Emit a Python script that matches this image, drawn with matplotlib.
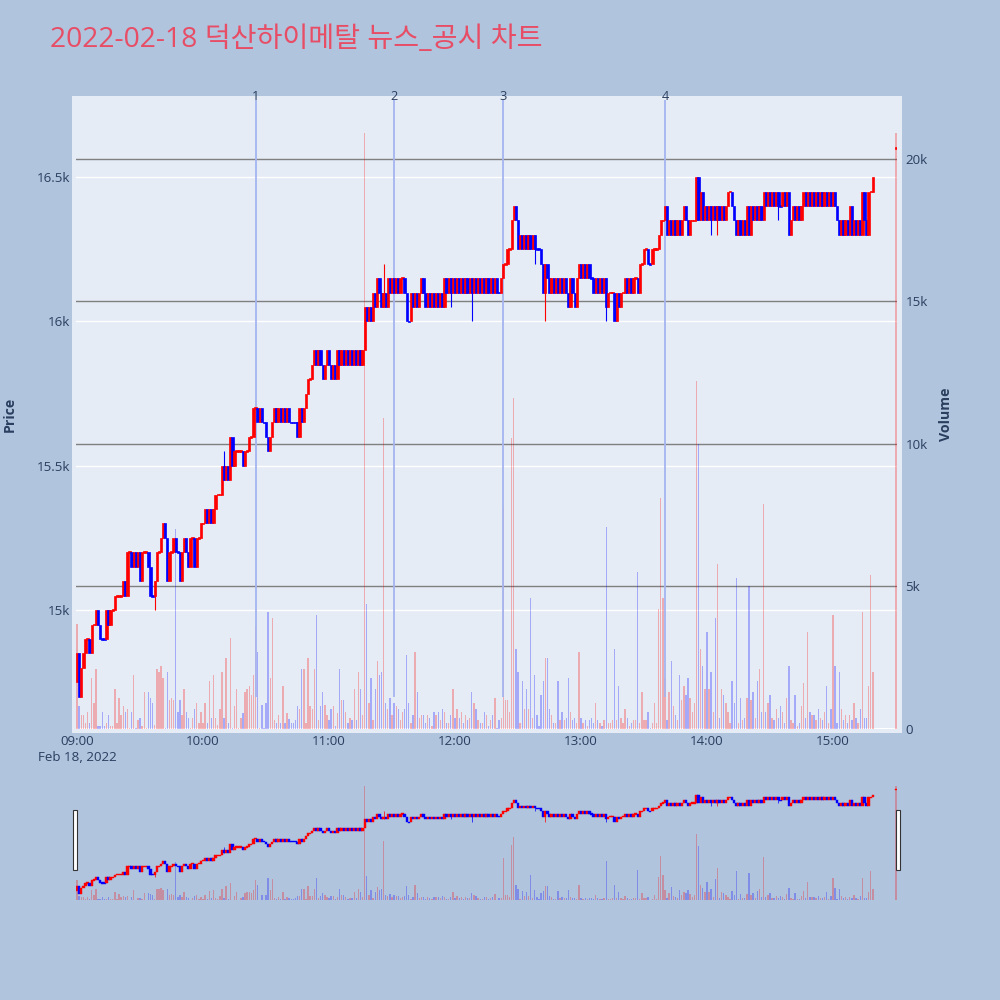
import numpy as np
import matplotlib.pyplot as plt
from matplotlib.patches import Rectangle
from matplotlib.transforms import blended_transform_factory

plt.rcParams['font.family'] = ['Open Sans', 'Noto Sans CJK KR', 'DejaVu Sans']

title = '2022-02-18 덕산하이메탈 뉴스_공시 차트'

# 1분봉 종가 (09:00 ~ 15:19), 시가는 직전 종가
first_open = 14750
close_px = [
    14850, 14700, 14800, 14850, 14900, 14900, 14850, 14950, 14950, 15000,  # 09:00
    14950, 14900, 14900, 14900, 15000, 14950, 15000, 15000, 15050, 15050,
    15050, 15050, 15100, 15050, 15200, 15200, 15150, 15200, 15150, 15200,
    15100, 15200, 15200, 15200, 15150, 15050, 15050, 15100, 15200, 15200,
    15250, 15300, 15250, 15100, 15200, 15200, 15250, 15200, 15200, 15100,
    15200, 15250, 15200, 15150, 15250, 15250, 15150, 15250, 15250, 15300,
    15300, 15350, 15300, 15350, 15300, 15350, 15400, 15400, 15400, 15500,  # 10:00
    15450, 15500, 15450, 15600, 15500, 15550, 15550, 15550, 15550, 15500,
    15550, 15550, 15600, 15600, 15700, 15700, 15650, 15700, 15650, 15650,
    15600, 15550, 15600, 15650, 15700, 15650, 15700, 15650, 15700, 15650,
    15700, 15650, 15650, 15650, 15650, 15600, 15700, 15650, 15700, 15750,
    15800, 15800, 15850, 15900, 15850, 15900, 15850, 15800, 15850, 15900,
    15850, 15800, 15850, 15800, 15900, 15850, 15900, 15850, 15900, 15850,  # 11:00
    15900, 15850, 15900, 15850, 15900, 15850, 15900, 16050, 16000, 16050,
    16000, 16100, 16050, 16150, 16100, 16050, 16100, 16050, 16150, 16100,
    16150, 16100, 16150, 16100, 16150, 16150, 16100, 16000, 16000, 16100,
    16050, 16100, 16050, 16100, 16150, 16100, 16050, 16100, 16050, 16100,
    16050, 16100, 16050, 16100, 16050, 16150, 16100, 16150, 16100, 16150,
    16100, 16150, 16100, 16150, 16100, 16150, 16100, 16150, 16100, 16150,  # 12:00
    16100, 16150, 16100, 16150, 16100, 16150, 16100, 16150, 16100, 16150,
    16100, 16100, 16150, 16200, 16200, 16250, 16250, 16350, 16400, 16350,
    16250, 16300, 16250, 16300, 16250, 16300, 16250, 16300, 16250, 16250,
    16250, 16200, 16100, 16200, 16150, 16100, 16150, 16100, 16150, 16100,
    16150, 16100, 16150, 16100, 16050, 16150, 16100, 16050, 16150, 16200,
    16150, 16200, 16150, 16200, 16150, 16150, 16100, 16150, 16100, 16150,  # 13:00
    16100, 16150, 16050, 16100, 16100, 16100, 16000, 16100, 16050, 16100,
    16100, 16150, 16100, 16150, 16100, 16150, 16150, 16100, 16200, 16200,
    16250, 16250, 16200, 16200, 16250, 16250, 16250, 16300, 16350, 16350,
    16400, 16300, 16350, 16300, 16350, 16300, 16350, 16300, 16350, 16400,
    16350, 16300, 16350, 16350, 16350, 16500, 16350, 16450, 16350, 16400,
    16350, 16400, 16350, 16400, 16350, 16400, 16350, 16400, 16350, 16400,  # 14:00
    16450, 16450, 16400, 16350, 16300, 16350, 16300, 16350, 16300, 16400,
    16300, 16400, 16350, 16400, 16350, 16400, 16350, 16450, 16400, 16450,
    16400, 16450, 16400, 16450, 16400, 16400, 16450, 16400, 16450, 16300,
    16350, 16400, 16350, 16400, 16350, 16400, 16450, 16400, 16450, 16400,
    16450, 16400, 16450, 16400, 16450, 16400, 16450, 16400, 16450, 16400,
    16450, 16400, 16350, 16300, 16350, 16300, 16350, 16300, 16400, 16300,  # 15:00
    16350, 16300, 16350, 16300, 16450, 16350, 16300, 16450, 16450, 16500,
]
hi_wick = {70: 15550, 146: 16200}
lo_wick = {37: 15000, 178: 16050, 188: 16000, 218: 16200, 223: 16000, 234: 16050,
           237: 16050, 252: 16000, 302: 16300, 305: 16300, 334: 16350, 341: 16350}

# 거래량 (천주)
volume_k = [
    3.7, 0.8, 0.5, 0.5, 0.2, 0.6, 0.2, 1.8, 0.9, 2.1,
    0.1, 0.1, 0.6, 0.1, 0.2, 0.5, 0.1, 0.1, 1.4, 0.2,
    1.1, 0.5, 0.8, 0.6, 0.7, 0.05, 0.6, 1.9, 0.05, 0.3,
    0.4, 0.1, 1.3, 0.05, 1.3, 1.1, 0.9, 0.15, 2.1, 2.0,
    2.2, 1.8, 0.05, 2.0, 1.0, 1.1, 1.0, 7.0, 0.6, 1.0,
    0.5, 1.4, 0.6, 0.4, 0.05, 0.4, 0.7, 0.9, 0.2, 0.6,
    0.2, 0.9, 0.2, 1.7, 0.4, 1.9, 0.4, 0.15, 0.7, 2.0,
    0.4, 2.5, 0.2, 3.2, 0.05, 0.8, 1.4, 0.05, 0.4, 0.55,
    1.3, 1.4, 1.5, 1.2, 1.9, 3.6, 2.7, 0.05, 0.85, 0.05,
    0.9, 4.1, 1.8, 3.9, 0.3, 0.2, 0.5, 0.2, 1.5, 0.2,
    0.55, 0.35, 0.2, 0.2, 0.3, 0.8, 0.7, 2.1, 2.1, 0.2,
    2.5, 0.8, 0.7, 2.1, 4.0, 0.3, 0.8, 1.3, 0.85, 0.5,
    0.3, 0.7, 0.8, 0.1, 0.55, 2.1, 1.0, 1.0, 0.6, 0.2,
    0.4, 0.3, 1.4, 0.3, 2.0, 1.4, 0.5, 20.9, 4.4, 0.9,
    1.8, 0.3, 1.4, 2.4, 1.9, 2.0, 10.9, 0.9, 0.7, 1.1,
    0.5, 0.9, 0.8, 0.7, 0.3, 0.6, 0.7, 2.6, 0.9, 0.2,
    0.5, 2.7, 1.3, 0.4, 0.5, 0.5, 0.2, 0.5, 0.4, 0.1,
    0.6, 0.5, 0.6, 0.3, 0.7, 0.6, 0.2, 0.2, 0.5, 1.4,
    0.4, 0.7, 0.4, 0.6, 0.2, 0.5, 0.3, 0.4, 1.3, 0.9,
    0.7, 0.3, 0.2, 0.2, 0.6, 0.5, 0.1, 0.3, 0.5, 1.1,
    0.05, 0.3, 0.4, 7.8, 1.0, 1.0, 0.6, 10.2, 11.6, 2.8,
    2.0, 0.2, 1.7, 0.7, 1.4, 0.7, 4.6, 0.4, 1.9, 0.5,
    0.1, 1.2, 1.7, 2.5, 2.5, 0.7, 0.5, 0.2, 0.2, 1.7,
    0.3, 0.6, 0.3, 0.4, 1.8, 0.6, 0.3, 0.4, 0.2, 2.7,
    0.4, 0.2, 0.3, 0.1, 0.3, 0.4, 0.2, 0.9, 0.3, 0.2,
    0.1, 0.3, 7.1, 0.2, 0.2, 0.3, 2.8, 0.3, 1.5, 0.4,
    0.2, 0.7, 0.4, 0.1, 0.2, 0.3, 0.3, 5.5, 0.2, 1.3,
    0.3, 0.3, 0.6, 0.05, 0.2, 0.9, 0.2, 4.2, 8.1, 4.6,
    1.8, 0.3, 1.3, 2.4, 0.8, 0.5, 0.3, 1.9, 1.0, 1.5,
    1.2, 1.8, 1.1, 0.6, 0.9, 12.2, 10.0, 2.8, 2.2, 1.4,
    3.4, 1.4, 2.0, 0.6, 3.9, 5.8, 0.4, 1.4, 1.2, 0.9,
    0.6, 0.2, 1.7, 0.9, 5.3, 0.2, 1.1, 0.3, 0.4, 1.1,
    5.0, 1.0, 1.3, 0.4, 1.7, 2.1, 0.6, 7.9, 0.6, 0.9,
    1.2, 0.4, 0.3, 0.7, 0.4, 0.8, 0.6, 0.2, 1.1, 2.2,
    0.3, 0.2, 1.2, 0.1, 0.2, 0.8, 1.6, 0.4, 3.4, 0.6,
    0.5, 0.5, 0.3, 0.7, 0.4, 0.3, 0.6, 1.5, 0.2, 0.7,
    4.0, 2.2, 0.2, 2.0, 0.7, 0.3, 0.5, 0.2, 0.5, 0.3,
    0.9, 0.4, 0.2, 0.7, 4.1, 0.4, 0.4, 1.5, 5.4, 2.0,
]

# 동시호가 15:30
auction_time = '15:30'
auction_price = 16600
auction_vol_k = 20.9

news_times = ['10:25', '11:31', '12:23', '13:40']
news_labels = ['1', '2', '3', '4']
news_floor = 14700

price_ticks = [15000, 15500, 16000, 16500]
price_labels = ['15k', '15.5k', '16k', '16.5k']
vol_ticks = [0, 5000, 10000, 15000, 20000]
vol_labels = ['0', '5k', '10k', '15k', '20k']
hour_ticks = ['09:00', '10:00', '11:00', '12:00', '13:00', '14:00', '15:00']

BG = '#b0c4de'
PLOT_BG = '#e5ecf6'
TXT = '#2a3f5f'
UP, DOWN = '#ff0000', '#0000ff'


def to_min(t):
    h, m = t.split(':')
    return (int(h) - 9) * 60 + int(m)


# OHLC 만들기
n = len(close_px)
mins = list(range(n)) + [to_min(auction_time)]
opens = [first_open] + close_px[:-1] + [auction_price]
closes = close_px + [auction_price]
highs, lows, dirs = [], [], []
prev = 1
for i, (o, c) in enumerate(zip(opens, closes)):
    highs.append(max(o, c, hi_wick.get(i, o)))
    lows.append(min(o, c, lo_wick.get(i, o)))
    d = 1 if c > o else (-1 if c < o else prev)
    dirs.append(d)
    prev = d
vols = [v * 1000 for v in volume_k] + [auction_vol_k * 1000]
cols = [UP if d > 0 else DOWN for d in dirs]

x = np.array(mins)
o = np.array(opens, dtype=float)
c = np.array(closes, dtype=float)
hi = np.array(highs, dtype=float)
lo = np.array(lows, dtype=float)

PRICE_LIM = (14588, 16767)
VOL_LIM = (0, 22070)
X_LIM = (-0.5, 390.5)


def draw_candles(a, body_w, min_h, wick_lw, edge_lw):
    bottom = np.minimum(o, c)
    height = np.maximum(np.abs(c - o), min_h)
    a.bar(x, height, bottom=bottom - (height - np.abs(c - o)) / 2, width=body_w,
          color=cols, edgecolor=cols, linewidth=edge_lw, zorder=3)
    has_wick = (hi > np.maximum(o, c)) | (lo < np.minimum(o, c))
    a.vlines(x[has_wick], lo[has_wick], hi[has_wick],
             colors=[cols[i] for i in np.where(has_wick)[0]], lw=wick_lw, zorder=3)


fig = plt.figure(figsize=(10, 10), dpi=100, facecolor=BG)

# 플롯 배경 (축보다 약간 넓음)
fig.patches.append(Rectangle((0.072, 0.267), 0.830, 0.637, transform=fig.transFigure,
                             facecolor=PLOT_BG, edgecolor='none', zorder=-1))

ax = fig.add_axes([0.076, 0.271, 0.821, 0.629])
ax_v = ax.twinx()
ax.set_zorder(2)
ax_v.set_zorder(1)
ax.patch.set_visible(False)
ax_v.set_facecolor(PLOT_BG)

ax.set_xlim(*X_LIM)
ax.set_ylim(*PRICE_LIM)
ax_v.set_ylim(*VOL_LIM)

# 격자
bt = blended_transform_factory(ax_v.transAxes, ax.transData)
for p in price_ticks:
    ax_v.plot([0, 1], [p, p], transform=bt, color='white', lw=1, zorder=0.5)
for v in vol_ticks[1:]:
    ax_v.axhline(v, color='#808080', lw=1, zorder=0.6)
ax_v.axhline(0, color='white', lw=1.5, zorder=0.6)

# 거래량
ax_v.bar(x, vols, width=0.65, color=cols, alpha=0.28, linewidth=0, zorder=1)

# 뉴스 라인
news_x = [to_min(t) for t in news_times]
ax.vlines(news_x, news_floor, PRICE_LIM[1], color='#a4b4f0', lw=1.3, zorder=1)
tb = blended_transform_factory(ax.transData, ax.transAxes)
for nx, lab in zip(news_x, news_labels):
    ax.text(nx, 1.0 + 4 / 629, lab, transform=tb, ha='center', va='center',
            fontsize=9.2, color=TXT)

draw_candles(ax, 1.1, 6, 0.8, 0.5)

for s in list(ax.spines.values()) + list(ax_v.spines.values()):
    s.set_visible(False)

ax.set_yticks(price_ticks)
ax.set_yticklabels(price_labels)
ax_v.set_yticks(vol_ticks)
ax_v.set_yticklabels(vol_labels)
ax.set_xticks([to_min(t) for t in hour_ticks])
ax.set_xticklabels(['09:00\nFeb 18, 2022'] + hour_ticks[1:])
for lbl in ax.get_xticklabels():
    lbl.set_linespacing(1.35)
ax.tick_params(axis='y', length=0, pad=4, labelsize=9.6, labelcolor=TXT)
ax.tick_params(axis='x', length=0, pad=4, labelsize=9.6, labelcolor=TXT)
ax_v.tick_params(axis='y', length=0, pad=6, labelsize=9.6, labelcolor=TXT)

fig.text(0.010, 0.5855, 'Price', rotation=90, ha='center', va='center',
         fontsize=10.2, fontweight='bold', color=TXT)
fig.text(0.946, 0.5855, 'Volume', rotation=90, ha='center', va='center',
         fontsize=10.2, fontweight='bold', color=TXT)
fig.text(0.05, 0.96, title, ha='left', va='center', fontsize=20.3, color='#e84d66')

# 레인지 슬라이더
ax_r = fig.add_axes([0.076, 0.100, 0.821, 0.120])
ax_rv = ax_r.twinx()
ax_r.set_zorder(2)
ax_rv.set_zorder(1)
ax_r.patch.set_visible(False)
ax_rv.set_facecolor(PLOT_BG)
ax_r.set_xlim(*X_LIM)
ax_r.set_ylim(*PRICE_LIM)
ax_rv.set_ylim(*VOL_LIM)
ax_rv.bar(x, vols, width=0.65, color=cols, alpha=0.28, linewidth=0)
draw_candles(ax_r, 1.1, 25, 0.5, 0.3)
for a in (ax_r, ax_rv):
    a.set_xticks([])
    a.set_yticks([])
    for s in a.spines.values():
        s.set_visible(False)

for hx in (0.0725, 0.8955):
    fig.patches.append(Rectangle((hx, 0.130), 0.0045, 0.060, transform=fig.transFigure,
                                 facecolor='white', edgecolor='#333333', lw=0.8, zorder=5))

fig.savefig('out.png', dpi=100, facecolor=BG)
